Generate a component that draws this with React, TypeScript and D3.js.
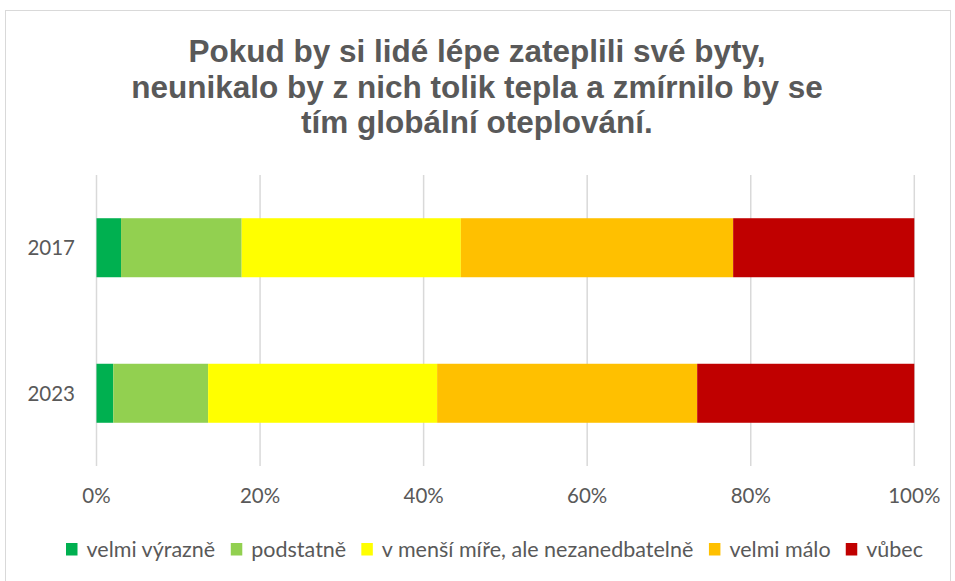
import React from "react";
import * as d3 from "d3";

const years = ["2017", "2023"];
const seriesNames = ["velmi výrazně", "podstatně", "v menší míře, ale nezanedbatelně", "velmi málo", "vůbec"];
const seriesColors = ["#00B050", "#92D050", "#FFFF00", "#FFC000", "#C00000"];
const values2017 = [3.0, 14.75, 26.8, 33.3, 22.15];
const values2023 = [2.05, 11.6, 28.0, 31.8, 26.55];
const xTicks = [0, 20, 40, 60, 80, 100];
const titleLines = [
  "Pokud by si lidé lépe zateplili své byty,",
  "neunikalo by z nich tolik tepla a zmírnilo by se",
  "tím globální oteplování.",
];

const W = 955;
const H = 581;
const FONT = "Lato, 'Open Sans', sans-serif";

function measure(text: string, font: string): number {
  if (typeof document === "undefined") return text.length * 10;
  const c = document.createElement("canvas");
  const ctx = c.getContext("2d");
  if (!ctx) return text.length * 10;
  ctx.font = font;
  return ctx.measureText(text).width;
}

export default function App() {
  const rows = [values2017, values2023];
  const x = d3.scaleLinear().domain([0, 100]).range([96.5, 914.3]);
  const y = d3.scaleBand().domain(years).range([175, 466]).paddingInner(0.5945).paddingOuter(0.297);

  const stacked = rows.map((vals) => {
    let acc = 0;
    return vals.map((v) => {
      const s = acc;
      acc += v;
      return [s, acc];
    });
  });

  // legend layout
  const legendFontSize = 21.5;
  const legendFont = `${legendFontSize}px Lato`;
  const sq = 11.5;
  const gapSqText = 9;
  const widths = seriesNames.map((n) => measure(n, legendFont));
  const textTotal = widths.reduce((a, w) => a + sq + gapSqText + w, 0);
  const targetLeft = 66;
  const targetRight = 923;
  const gapItems = (targetRight - targetLeft - textTotal) / (seriesNames.length - 1);
  let lx = targetLeft;
  const legendItems = seriesNames.map((n, i) => {
    const item = { x: lx, name: n, color: seriesColors[i] };
    lx += sq + gapSqText + widths[i] + gapItems;
    return item;
  });

  return (
    <svg width={W} height={H} style={{ position: "absolute", left: 0, top: 0 }}>
      <rect x={0} y={0} width={W} height={H} fill="#fff" />
      <rect x={5.5} y={10.5} width={945} height={580} fill="#fff" stroke="#d9d9d9" strokeWidth={1} />
      {titleLines.map((t, i) => (
        <text
          key={i}
          x={477}
          y={62 + i * 35.5}
          textAnchor="middle"
          fontFamily="'Liberation Sans', Arial, sans-serif"
          fontWeight="bold"
          fontSize={31.5}
          fill="#595959"
        >
          {t}
        </text>
      ))}
      {xTicks.map((t) => (
        <g key={t}>
          <line x1={x(t)} x2={x(t)} y1={175} y2={466} stroke="#d9d9d9" strokeWidth={1.5} />
          <text x={x(t)} y={503} textAnchor="middle" fontFamily={FONT} fontSize={20.5} fill="#595959">
            {t}%
          </text>
        </g>
      ))}
      {years.map((yr, ri) => (
        <g key={yr}>
          <text
            x={75}
            y={(y(yr) as number) + y.bandwidth() / 2 + 7.5}
            textAnchor="end"
            fontFamily={FONT}
            fontSize={20.5}
            fill="#595959"
          >
            {yr}
          </text>
          {stacked[ri].map(([s, e], si) => (
            <rect
              key={si}
              x={x(s)}
              y={y(yr) as number}
              width={x(e) - x(s)}
              height={y.bandwidth()}
              fill={seriesColors[si]}
            />
          ))}
        </g>
      ))}
      {legendItems.map((it, i) => (
        <g key={i}>
          <rect x={it.x} y={543} width={sq} height={sq + 1} fill={it.color} />
          <text x={it.x + sq + gapSqText} y={556.5} fontFamily={FONT} fontSize={legendFontSize} fill="#595959">
            {it.name}
          </text>
        </g>
      ))}
    </svg>
  );
}
